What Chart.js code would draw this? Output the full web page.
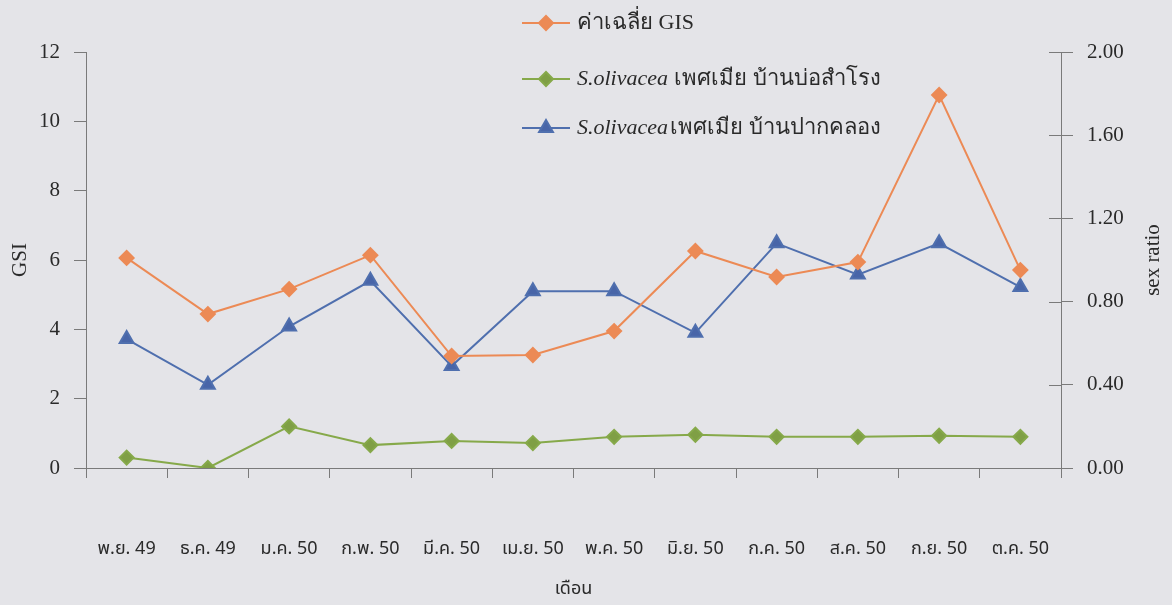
<!DOCTYPE html>
<html>
<head>
<meta charset="utf-8">
<script src="https://cdn.jsdelivr.net/npm/chart.js@4.4.1/dist/chart.umd.min.js"></script>
<style>
  html, body { margin: 0; padding: 0; background: #e4e4e8; }
  #wrap { width: 1172px; height: 605px; }
</style>
</head>
<body>
<div id="wrap"><canvas id="myChart"></canvas></div>
<script>
const months = ["พ.ย. 49", "ธ.ค. 49", "ม.ค. 50", "ก.พ. 50", "มี.ค. 50", "เม.ย. 50",
                "พ.ค. 50", "มิ.ย. 50", "ก.ค. 50", "ส.ค. 50", "ก.ย. 50", "ต.ค. 50"];
const gsiMean = [6.06, 4.44, 5.16, 6.14, 3.23, 3.26, 3.95, 6.26, 5.51, 5.94, 10.76, 5.71];
const ratioBoSamrong = [0.05, 0.00, 0.20, 0.11, 0.13, 0.12, 0.15, 0.16, 0.15, 0.15, 0.155, 0.15];
const ratioPakKhlong = [0.62, 0.40, 0.68, 0.90, 0.49, 0.85, 0.85, 0.65, 1.08, 0.93, 1.08, 0.87];

const serif = "'Liberation Serif', 'Times New Roman', serif";
const thai = "'Noto Sans Thai', 'Noto Sans', sans-serif";
const axisGray = '#7a7a7a';
const textCol = '#2a2a2a';

// legend drawn as a vertical stack at the top, like the original
const stackLegend = {
  id: 'stackLegend',
  afterDraw(chart) {
    const ctx = chart.ctx;
    const rows = [23, 79, 128];
    chart.data.datasets.forEach((ds, i) => {
      const y = rows[i];
      ctx.save();
      ctx.strokeStyle = ds.borderColor;
      ctx.lineWidth = 2;
      ctx.beginPath();
      ctx.moveTo(522, y);
      ctx.lineTo(570, y);
      ctx.stroke();
      ctx.fillStyle = ds.backgroundColor;
      Chart.helpers.drawPoint(ctx, { pointStyle: ds.pointStyle, radius: ds.pointRadius, borderWidth: 1 }, 546, y);
      ctx.textBaseline = 'middle';
      ctx.fillStyle = textCol;
      let x = 577;
      if (i > 0) {
        ctx.font = "italic 22px " + serif;
        ctx.fillText("S.olivacea", x, y);
        x += ctx.measureText("S.olivacea").width + (i === 1 ? 6 : 2);
      }
      ctx.font = "22px " + serif;
      ctx.fillText(i === 0 ? ds.label : ds.label.replace("S.olivacea ", ""), x, y);
      ctx.restore();
    });
  }
};

// right axis: ticks cross the axis line, title reads bottom-to-top
const rightAxisExtras = {
  id: 'rightAxisExtras',
  afterDraw(chart) {
    const s = chart.scales.y2;
    const ctx = chart.ctx;
    ctx.save();
    ctx.strokeStyle = axisGray;
    ctx.lineWidth = 1;
    s.ticks.forEach((t, i) => {
      const py = Math.round(s.getPixelForTick(i)) + 0.5;
      ctx.beginPath();
      ctx.moveTo(s.left - 12, py);
      ctx.lineTo(s.left, py);
      ctx.stroke();
    });
    // x axis line stretches a little past the left axis
    const x = chart.scales.x;
    ctx.beginPath();
    ctx.moveTo(chart.chartArea.left - 12, Math.round(x.top) + 0.5);
    ctx.lineTo(chart.chartArea.left, Math.round(x.top) + 0.5);
    ctx.stroke();

    ctx.translate(1153, (s.top + s.bottom) / 2);
    ctx.rotate(-Math.PI / 2);
    ctx.fillStyle = textCol;
    ctx.font = "21px " + serif;
    ctx.textAlign = 'center';
    ctx.textBaseline = 'middle';
    ctx.fillText("sex ratio", 0, 0);
    ctx.restore();
  }
};

new Chart(document.getElementById('myChart'), {
  type: 'line',
  data: {
    labels: months,
    datasets: [
      {
        label: "ค่าเฉลี่ย GIS",
        data: gsiMean,
        yAxisID: 'y',
        borderColor: '#ec8a55',
        backgroundColor: '#ec8a55',
        pointStyle: 'rectRot',
        pointRadius: 7,
        borderWidth: 2
      }, {
        label: "S.olivacea เพศเมีย บ้านบ่อสำโรง",
        data: ratioBoSamrong,
        yAxisID: 'y2',
        borderColor: '#86a94a',
        backgroundColor: '#7f9f45',
        pointStyle: 'rectRot',
        pointRadius: 7,
        borderWidth: 2
      }, {
        label: "S.olivacea เพศเมีย บ้านปากคลอง",
        data: ratioPakKhlong,
        yAxisID: 'y2',
        borderColor: '#4f6fae',
        backgroundColor: '#4865a8',
        pointStyle: 'triangle',
        pointRadius: 8,
        borderWidth: 2
      }]
  },
  options: {
    responsive: true,
    maintainAspectRatio: false,
    animation: false,
    layout: { padding: { top: 52, left: 0, right: 0, bottom: 0 } },
    plugins: {
      legend: { display: false },
      tooltip: { enabled: false }
    },
    scales: {
      x: {
        offset: true,
        grid: {
          offset: true,
          drawOnChartArea: false,
          tickLength: 10,
          color: axisGray
        },
        border: { color: axisGray },
        ticks: {
          color: textCol,
          font: { family: thai, size: 18 },
          padding: 62,
          maxRotation: 0,
          autoSkip: false
        },
        title: {
          display: true,
          text: "เดือน",
          color: textCol,
          font: { family: thai, size: 18 },
          padding: { top: 10 }
        },
        afterFit(s) { s.height = 137; }
      },
      y: {
        position: 'left',
        min: 0, max: 12,
        ticks: {
          stepSize: 2,
          color: textCol,
          font: { family: serif, size: 21 },
          padding: 14
        },
        grid: { drawOnChartArea: false, tickLength: 12, color: axisGray },
        border: { color: axisGray },
        title: {
          display: true,
          text: "GSI",
          color: textCol,
          font: { family: serif, size: 21 },
          padding: { top: 8 }
        },
        afterFit(s) { s.width = 86; }
      },
      y2: {
        position: 'right',
        min: 0, max: 2,
        ticks: {
          stepSize: 0.4,
          color: textCol,
          font: { family: serif, size: 21 },
          padding: 14,
          callback: v => v.toFixed(2)
        },
        grid: { drawOnChartArea: false, tickLength: 12, color: axisGray },
        border: { color: axisGray },
        afterFit(s) { s.width = 111; }
      }
    }
  },
  plugins: [stackLegend, rightAxisExtras]
});
</script>
</body>
</html>
